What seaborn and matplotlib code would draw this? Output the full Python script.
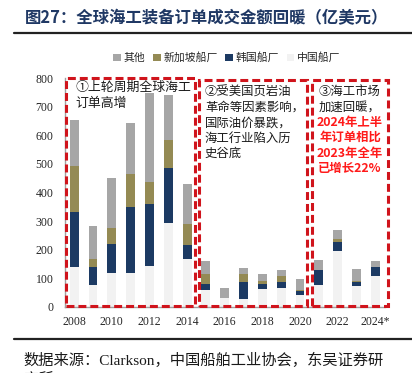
import numpy as np
import pandas as pd
import seaborn as sns
import matplotlib.pyplot as plt
from matplotlib.patches import Rectangle

# 年份与各船厂订单金额（亿美元）
years = ['2008', '2009', '2010', '2011', '2012', '2013', '2014', '2015', '2016',
         '2017', '2018', '2019', '2020', '2021', '2022', '2023', '2024*']
china = [138, 74, 117, 117, 144, 292, 167, 58, 31, 26, 62, 66, 40, 76, 196, 73, 109]
korea = [195, 66, 101, 233, 217, 192, 49, 22, 0, 61, 18, 19, 14, 51, 30, 13, 31]
singapore = [160, 26, 57, 115, 76, 99, 74, 33, 0, 28, 9, 24, 4, 0, 10, 4, 0]
other = [160, 118, 175, 180, 312, 160, 138, 46, 33, 19, 27, 21, 38, 37, 33, 42, 21]

series_names = ['其他', '新加坡船厂', '韩国船厂', '中国船厂']
colors = {'其他': '#A6A6A6', '新加坡船厂': '#948A54',
          '韩国船厂': '#1C3A63', '中国船厂': '#F2F2F2'}

tick_labels = ['2008', '', '2010', '', '2012', '', '2014', '', '2016', '',
               '2018', '', '2020', '', '2022', '', '2024*']

df = pd.DataFrame({'year': years, '中国船厂': china, '韩国船厂': korea,
                   '新加坡船厂': singapore, '其他': other})
# 累计高度，从上往下叠画
df['cum_中国船厂'] = df['中国船厂']
df['cum_韩国船厂'] = df['cum_中国船厂'] + df['韩国船厂']
df['cum_新加坡船厂'] = df['cum_韩国船厂'] + df['新加坡船厂']
df['cum_其他'] = df['cum_新加坡船厂'] + df['其他']

sns.set_style('white')
plt.rcParams['font.family'] = ['Liberation Serif', 'Noto Sans CJK SC']
cjk = ['Noto Sans CJK SC', 'DejaVu Sans']

fig = plt.figure(figsize=(4.12, 3.73), dpi=100)
ax = fig.add_axes([0.157, 0.178, 0.777, 0.612])

for name in series_names:
    sns.barplot(data=df, x='year', y='cum_' + name, order=years, color=colors[name],
                width=0.47, saturation=1, ax=ax, label=name, edgecolor='none')

handles, labels = ax.get_legend_handles_labels()
if ax.get_legend() is not None:
    ax.get_legend().remove()

ax.set_xlim(-0.5, 16.5)
ax.set_ylim(0, 800)
ax.set_yticks(range(0, 801, 100))
ax.set_xlabel('')
ax.set_ylabel('')
ax.set_xticks(range(len(years)))
ax.set_xticklabels(tick_labels)
ax.set_xticks(np.arange(-0.5, 16.6, 1), minor=True)
ax.tick_params(axis='x', which='major', length=0, pad=7, labelsize=8.5)
ax.tick_params(axis='x', which='minor', direction='in', length=3, color='#A0A0A0')
ax.tick_params(axis='y', direction='in', length=3, color='#A0A0A0', pad=8, labelsize=8.5)
for s in ['top', 'right']:
    ax.spines[s].set_visible(False)
for s in ['left', 'bottom']:
    ax.spines[s].set_color('#A0A0A0')
    ax.spines[s].set_linewidth(1)

# 红色虚线框
red = '#D0141C'
boxes = [(-0.43, 6.44, 2, 800), (6.65, 12.39, 2, 793), (12.66, 16.65, 2, 793)]
for x0, x1, y0, y1 in boxes:
    ax.add_patch(Rectangle((x0, y0), x1 - x0, y1 - y0, fill=False, edgecolor=red,
                           linewidth=2.2, linestyle=(0, (2.6, 1.3)), clip_on=False, zorder=5))

ax.text(0.05, 792, '①上轮周期全球海工\n订单高增', family=cjk, fontsize=9.3,
        va='top', ha='left', linespacing=1.3, color='#1a1a1a', zorder=6)
ax.text(6.95, 776, '②受美国页岩油\n革命等因素影响，\n国际油价暴跌，\n海工行业陷入历\n史谷底',
        family=cjk, fontsize=8.9, va='top', ha='left', linespacing=1.25,
        color='#1a1a1a', zorder=6)
ax.text(14.65, 776, '③海工市场\n加速回暖，', family=cjk, fontsize=8.9, va='top',
        ha='center', linespacing=1.25, color='#1a1a1a', zorder=6)
ax.text(14.65, 669, '2024年上半\n年订单相比\n2023年全年\n已增长22%', family=cjk,
        fontsize=8.9, va='top', ha='center', linespacing=1.25, color='#FF1A1A',
        fontweight='bold', zorder=6)

fig.legend(handles, labels, loc='center', bbox_to_anchor=(0.551, 0.845), ncol=4,
           frameon=False, prop={'family': cjk, 'size': 7.8}, handlelength=0.7,
           handleheight=0.7, handletextpad=0.25, columnspacing=0.7)

# 标题与来源
fig.text(0.06, 1 - 18 / 373, '图27：全球海工装备订单成交金额回暖（亿美元）',
         family=cjk, fontsize=11.8, fontweight='bold', color='#1F3864', va='center')
fig.add_artist(plt.Line2D([14 / 412, 1.0], [1 - 33 / 373] * 2, color='#222222', linewidth=1.6))
fig.add_artist(plt.Line2D([14 / 412, 1.0], [1 - 339 / 373] * 2, color='#222222', linewidth=1.6))
fig.text(0.056, 1 - 353 / 373, '数据来源：Clarkson，中国船舶工业协会，东吴证券研\n究所',
         family=['Liberation Serif', 'Noto Sans CJK SC'], fontsize=11, va='top',
         linespacing=1.4, color='#1a1a1a')

fig.savefig('out.png', dpi=100)
